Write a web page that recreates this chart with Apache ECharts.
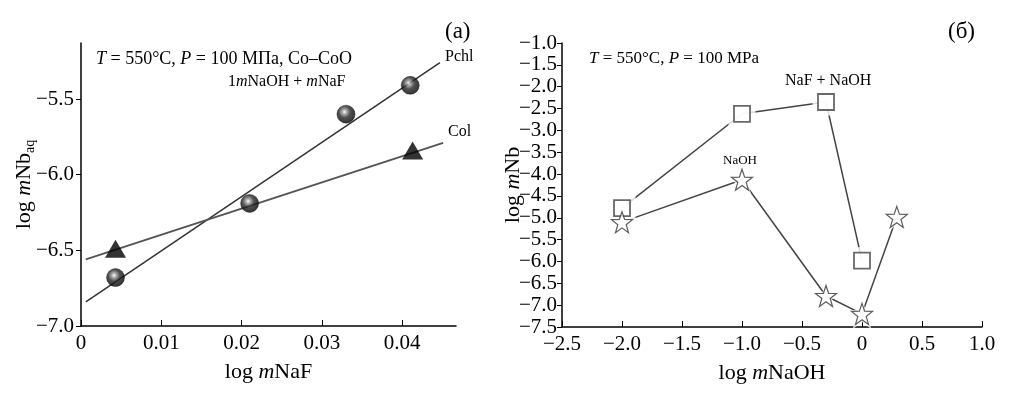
<!DOCTYPE html>
<html>
<head>
<meta charset="utf-8">
<script src="https://cdn.jsdelivr.net/npm/echarts@6/dist/echarts.min.js"></script>
<style>
  html, body { margin: 0; padding: 0; background: #fff; }
  #chart { width: 1029px; height: 397px; }
</style>
</head>
<body>
<div id="chart"></div>
<script>
// (a) log mNaF vs log mNb_aq
const naF = [0.0043, 0.021, 0.033, 0.041];
const pchlNb = [-6.68, -6.19, -5.6, -5.41];
const colNaF = [0.0043, 0.0413];
const colNb = [-6.49, -5.84];
const pchlFitX = [0.0006, 0.0447];
const pchlFitY = [-6.84, -5.26];
const colFitX = [0.0006, 0.0451];
const colFitY = [-6.56, -5.79];
const aXTicks = [0, 0.01, 0.02, 0.03, 0.04];
const aYTicks = [-7.0, -6.5, -6.0, -5.5];

// (б) log mNaOH vs log mNb
const mixNaOH = [-2.0, -1.0, -0.3, 0.0];
const mixNb = [-4.78, -2.62, -2.35, -5.98];
const naohX = [-2.0, -1.0, -0.3, 0.0, 0.29];
const naohNb = [-5.1, -4.13, -6.79, -7.2, -4.98];

const font = "Liberation Serif";
const minus = (s) => s.replace("-", "\u2212");
const zip = (xs, ys) => xs.map((x, i) => [x, ys[i]]);

const chart = echarts.init(document.getElementById("chart"));
const sphere = new echarts.graphic.RadialGradient(0.42, 0.38, 0.62, [
  { offset: 0, color: "#ffffff" },
  { offset: 0.18, color: "#a0a0a0" },
  { offset: 0.5, color: "#262626" },
  { offset: 1, color: "#000000" },
]);
const starPath = "path://M0,-10 L2.35,-3.24 L9.51,-3.09 L3.8,1.24 L5.88,8.09 L0,4 L-5.88,8.09 L-3.8,1.24 L-9.51,-3.09 L-2.35,-3.24 Z";

const axisCommon = {
  axisLine: { onZero: false, lineStyle: { color: "#000", width: 1.5 } },
  splitLine: { show: false },
  axisLabel: { color: "#000", fontFamily: font, fontSize: 21 },
  nameMoveOverlap: false,
};
const nameRich = {
  n: { fontFamily: font, fontSize: 22, color: "#000" },
  i: { fontFamily: font, fontSize: 22, color: "#000", fontStyle: "italic" },
  s: { fontFamily: font, fontSize: 14, color: "#000", verticalAlign: "bottom", padding: [11, 0, 0, 0] },
};
const txt = (size, rich) => ({
  font: size + "px " + font, fill: "#000",
  rich: rich ? { i: { fontStyle: "italic", fontFamily: font, fontSize: size } } : undefined,
});

chart.setOption({
  animation: false,
  grid: [
    { left: 81, top: 43, width: 375, height: 283 },
    { left: 562, top: 43, width: 420, height: 284 },
  ],
  xAxis: [
    {
      gridIndex: 0, type: "value", min: 0, max: 0.0467,
      ...axisCommon,
      axisTick: { inside: true, length: 6, customValues: aXTicks, lineStyle: { color: "#000" } },
      axisLabel: { ...axisCommon.axisLabel, customValues: aXTicks, margin: 7,
        formatter: (v) => (v === 0 ? "0" : String(+v.toFixed(2))) },
      name: "{n|log }{i|m}{n|NaF}", nameLocation: "middle", nameGap: 35,
      nameTextStyle: { rich: nameRich },
    },
    {
      gridIndex: 1, type: "value", min: -2.5, max: 1.0, interval: 0.5,
      ...axisCommon,
      axisTick: { inside: true, length: 6, lineStyle: { color: "#000" } },
      axisLabel: { ...axisCommon.axisLabel, margin: 7,
        formatter: (v) => (v === 0 ? "0" : minus(v.toFixed(1))) },
      name: "{n|log }{i|m}{n|NaOH}", nameLocation: "middle", nameGap: 35,
      nameTextStyle: { rich: nameRich },
    },
  ],
  yAxis: [
    {
      gridIndex: 0, type: "value", min: -7.0, max: -5.13,
      ...axisCommon,
      axisTick: { length: 5, customValues: aYTicks, lineStyle: { color: "#000" } },
      axisLabel: { ...axisCommon.axisLabel, customValues: aYTicks, margin: 7,
        formatter: (v) => minus(v.toFixed(1)) },
      name: "{n|log }{i|m}{n|Nb}{s|aq}", nameLocation: "middle", nameGap: 44, nameRotate: 90,
      nameTextStyle: { rich: nameRich },
    },
    {
      gridIndex: 1, type: "value", min: -7.5, max: -1.0, interval: 0.5,
      ...axisCommon,
      axisTick: { length: 5, lineStyle: { color: "#000" } },
      axisLabel: { ...axisCommon.axisLabel, margin: 5,
        formatter: (v) => minus(v.toFixed(1)) },
      name: "{n|log }{i|m}{n|Nb}", nameLocation: "middle", nameGap: 38, nameRotate: 90,
      nameTextStyle: { rich: nameRich },
    },
  ],
  series: [
    // (a) fit lines and points
    { type: "line", xAxisIndex: 0, yAxisIndex: 0, data: zip(pchlFitX, pchlFitY), showSymbol: false,
      lineStyle: { color: "#333", width: 1.5 } },
    { type: "line", xAxisIndex: 0, yAxisIndex: 0, data: zip(colFitX, colFitY), showSymbol: false,
      lineStyle: { color: "#555", width: 2 } },
    { type: "scatter", xAxisIndex: 0, yAxisIndex: 0, data: zip(naF, pchlNb), symbol: "circle", symbolSize: 18,
      itemStyle: { color: sphere, borderColor: "#000", borderWidth: 0.5 }, z: 5 },
    { type: "scatter", xAxisIndex: 0, yAxisIndex: 0, data: zip(colNaF, colNb), symbol: "triangle", symbolSize: [21, 18],
      itemStyle: { color: "#000" }, z: 5 },

    // (б) connecting lines, white halos, hollow markers
    { type: "line", xAxisIndex: 1, yAxisIndex: 1, data: zip(mixNaOH, mixNb), showSymbol: false,
      lineStyle: { color: "#444", width: 1.5 } },
    { type: "line", xAxisIndex: 1, yAxisIndex: 1, data: zip(naohX, naohNb), showSymbol: false,
      lineStyle: { color: "#444", width: 1.5 } },
    { type: "scatter", xAxisIndex: 1, yAxisIndex: 1, data: zip(mixNaOH, mixNb), symbol: "rect", symbolSize: 27,
      itemStyle: { color: "#fff" }, z: 3 },
    { type: "scatter", xAxisIndex: 1, yAxisIndex: 1, data: zip(naohX, naohNb), symbol: starPath, symbolSize: 30,
      itemStyle: { color: "#fff" }, z: 3 },
    { type: "scatter", xAxisIndex: 1, yAxisIndex: 1, data: zip(mixNaOH, mixNb), symbol: "rect", symbolSize: 16,
      itemStyle: { color: "#fff", borderColor: "#444", borderWidth: 1.8 }, z: 5 },
    { type: "scatter", xAxisIndex: 1, yAxisIndex: 1, data: zip(naohX, naohNb), symbol: starPath, symbolSize: 21,
      itemStyle: { color: "#fff", borderColor: "#333", borderWidth: 1.2 }, z: 5 },
  ],
  graphic: [
    { type: "text", left: 96, top: 50, style: { text: "{i|T} = 550°C, {i|P} = 100 МПа, Co–CoO", ...txt(18, true) } },
    { type: "text", left: 228, top: 74, style: { text: "1{i|m}NaOH + {i|m}NaF", ...txt(16, true) } },
    { type: "text", left: 445, top: 20, style: { text: "(a)", ...txt(23) } },
    { type: "text", left: 445, top: 49, style: { text: "Pchl", ...txt(16) } },
    { type: "text", left: 448, top: 124, style: { text: "Col", ...txt(16) } },

    { type: "text", left: 589, top: 50, style: { text: "{i|T} = 550°C, {i|P} = 100 MPa", ...txt(17, true) } },
    { type: "text", left: 785, top: 73, style: { text: "NaF + NaOH", ...txt(16) } },
    { type: "text", left: 723, top: 154, style: { text: "NaOH", ...txt(13) } },
    { type: "text", left: 948, top: 20, style: { text: "(б)", ...txt(23) } },
  ],
});
</script>
</body>
</html>
